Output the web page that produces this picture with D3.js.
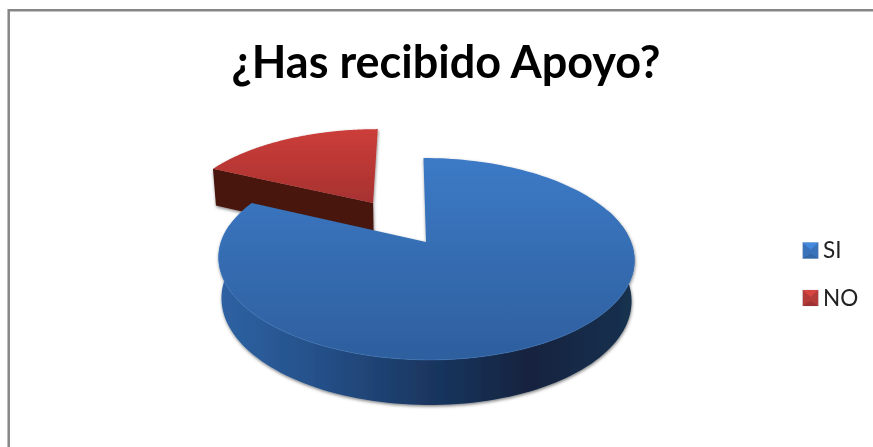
<!DOCTYPE html>
<html><head><meta charset="utf-8">
<script src="https://cdn.jsdelivr.net/npm/d3@7"></script>
<style>html,body{margin:0;padding:0;background:#fff}svg{display:block}</style>
</head><body><svg id="c" width="873" height="447"></svg>
<script>
const title = "¿Has recibido Apoyo?";
const categories = ["SI", "NO"];
const values = [82, 18];
const explode = [0, 0.505];
const topStops = [["#3c7ac6", "#2e5f9e"], ["#cc3d3a", "#982e2b"]];
const legendFill = ["#3a73ba", "#b33a37"];

const svg = d3.select("#c");
const defs = svg.append("defs");
const W = 873, H = 447;

// perspective disc
const cx = 426, cy = 242, Rx = 205, Ry = 98.1, k = 0.168, lean = -3;
function project(U, V) {
  const s = 1 / (1 + k * V);
  return [cx + (Rx * U + lean * V) * s, cy - Ry * V * s, s];
}
function below(p) {
  return [cx + (p[0] - cx) * 0.986, p[1] + 40 * Math.pow(p[2], 0.65)];
}
const line = d3.line();

// gradients
function vGrad(id, stops, y1, y2, x1, x2) {
  const g = defs.append("linearGradient").attr("id", id).attr("gradientUnits", "userSpaceOnUse")
    .attr("x1", x1 || 0).attr("x2", x2 || 0).attr("y1", y1).attr("y2", y2 || y1);
  stops.forEach((c, i) => g.append("stop").attr("offset", i / (stops.length - 1)).attr("stop-color", c));
}
vGrad("top0", topStops[0], 158, 360);
vGrad("top1", topStops[1], 129, 232);
vGrad("wall0", ["#2e62a3", "#244f87", "#1a3761", "#12233f", "#18314f"], 0, 0, 220, 633);
defs.append("filter").attr("id", "sh").attr("x", "-5%").attr("y", "-5%").attr("width", "110%").attr("height", "112%")
  .append("feDropShadow").attr("dx", 0.5).attr("dy", 1.5).attr("stdDeviation", 1.5)
  .attr("flood-color", "#000").attr("flood-opacity", 0.5);
defs.append("filter").attr("id", "soft").append("feGaussianBlur").attr("stdDeviation", 0.5);
defs.append("filter").attr("id", "softText").append("feGaussianBlur").attr("stdDeviation", 0.35);

// frame: top and left edges only, the right and bottom are cropped away
svg.append("path").attr("d", d3.line()([[8.7, H], [8.7, 10.3], [W, 10.3]]))
  .attr("fill", "none").attr("stroke", "#868686").attr("stroke-width", 2.5);

// title
svg.append("text").attr("x", 446).attr("y", 78).attr("text-anchor", "middle")
  .attr("font-family", "Lato").attr("font-weight", 700).attr("font-size", 45).attr("fill", "#000")
  .attr("filter", "url(#softText)")
  .text(title);

// slices
const pie = d3.pie().sort(null).startAngle(0).endAngle(2 * Math.PI);
const arcs = pie(values);
const slices = arcs.map((a, i) => {
  const mid = (a.startAngle + a.endAngle) / 2;
  const oU = Math.sin(mid) * explode[i], oV = Math.cos(mid) * explode[i];
  const rim = d3.range(0, 161).map(j => {
    const t = a.startAngle + (a.endAngle - a.startAngle) * j / 160;
    return project(oU + Math.sin(t), oV + Math.cos(t));
  });
  return { i, a, rim, apex: project(oU, oV) };
});

const g = svg.append("g").attr("filter", "url(#soft)");

// NO slice (behind)
const no = slices[1];
const gNo = g.append("g").attr("filter", "url(#sh)");
const tip = no.rim[0];
gNo.append("path").attr("fill", "#48130f")
  .attr("d", line([tip, no.apex, below(no.apex), below(tip)].map(p => [p[0], p[1]])) + "Z");
gNo.append("path").attr("fill", "url(#top1)")
  .attr("d", line([no.apex, ...no.rim].map(p => [p[0], p[1]])) + "Z");

// SI slice (front)
const si = slices[0];
const gSi = g.append("g").attr("filter", "url(#sh)");
const span = si.a.endAngle - si.a.startAngle;
const front = si.rim.filter((p, j) => {
  const t = si.a.startAngle + span * j / 160;
  return t > 1.2 && t < 4.9;
});
gSi.append("path").attr("fill", "url(#wall0)")
  .attr("d", line([...front.map(p => [p[0], p[1]]), ...front.slice().reverse().map(below)]) + "Z");
gSi.append("path").attr("fill", "url(#top0)")
  .attr("d", line([si.apex, ...si.rim].map(p => [p[0], p[1]])) + "Z");
gSi.append("path").attr("fill", "none").attr("stroke", "#4a86cf").attr("stroke-width", 0.7).attr("opacity", 0.55)
  .attr("d", line(front.map(p => [p[0], p[1]])));

// legend
const legendY = d3.scalePoint().domain(categories).range([250.5, 298]);
const legend = svg.selectAll(".lg").data(categories).join("g").attr("class", "lg")
  .attr("transform", d => `translate(810.5,${legendY(d)})`);
const m = 8;
const mark = legend.append("g").attr("filter", "url(#softText)");
mark.append("rect").attr("x", -m).attr("y", -m).attr("width", 2 * m).attr("height", 2 * m)
  .attr("fill", (d, i) => legendFill[i]).attr("stroke", "#cfd6e0").attr("stroke-width", 0.6);
mark.append("path").attr("d", `M${-m},${-m}L${m},${-m}L0,${-m + 7}Z`)
  .attr("fill", (d, i) => d3.color(legendFill[i]).brighter(0.5));
mark.append("path").attr("d", `M${-m},${m}L${m},${m}L0,${m - 5}Z`)
  .attr("fill", (d, i) => d3.color(legendFill[i]).darker(0.35));
legend.append("text").attr("x", 12.5).attr("y", 7.5)
  .attr("font-family", "Lato").attr("font-size", 22.5).attr("fill", "#222")
  .attr("filter", "url(#softText)")
  .text(d => d);
</script></body></html>
